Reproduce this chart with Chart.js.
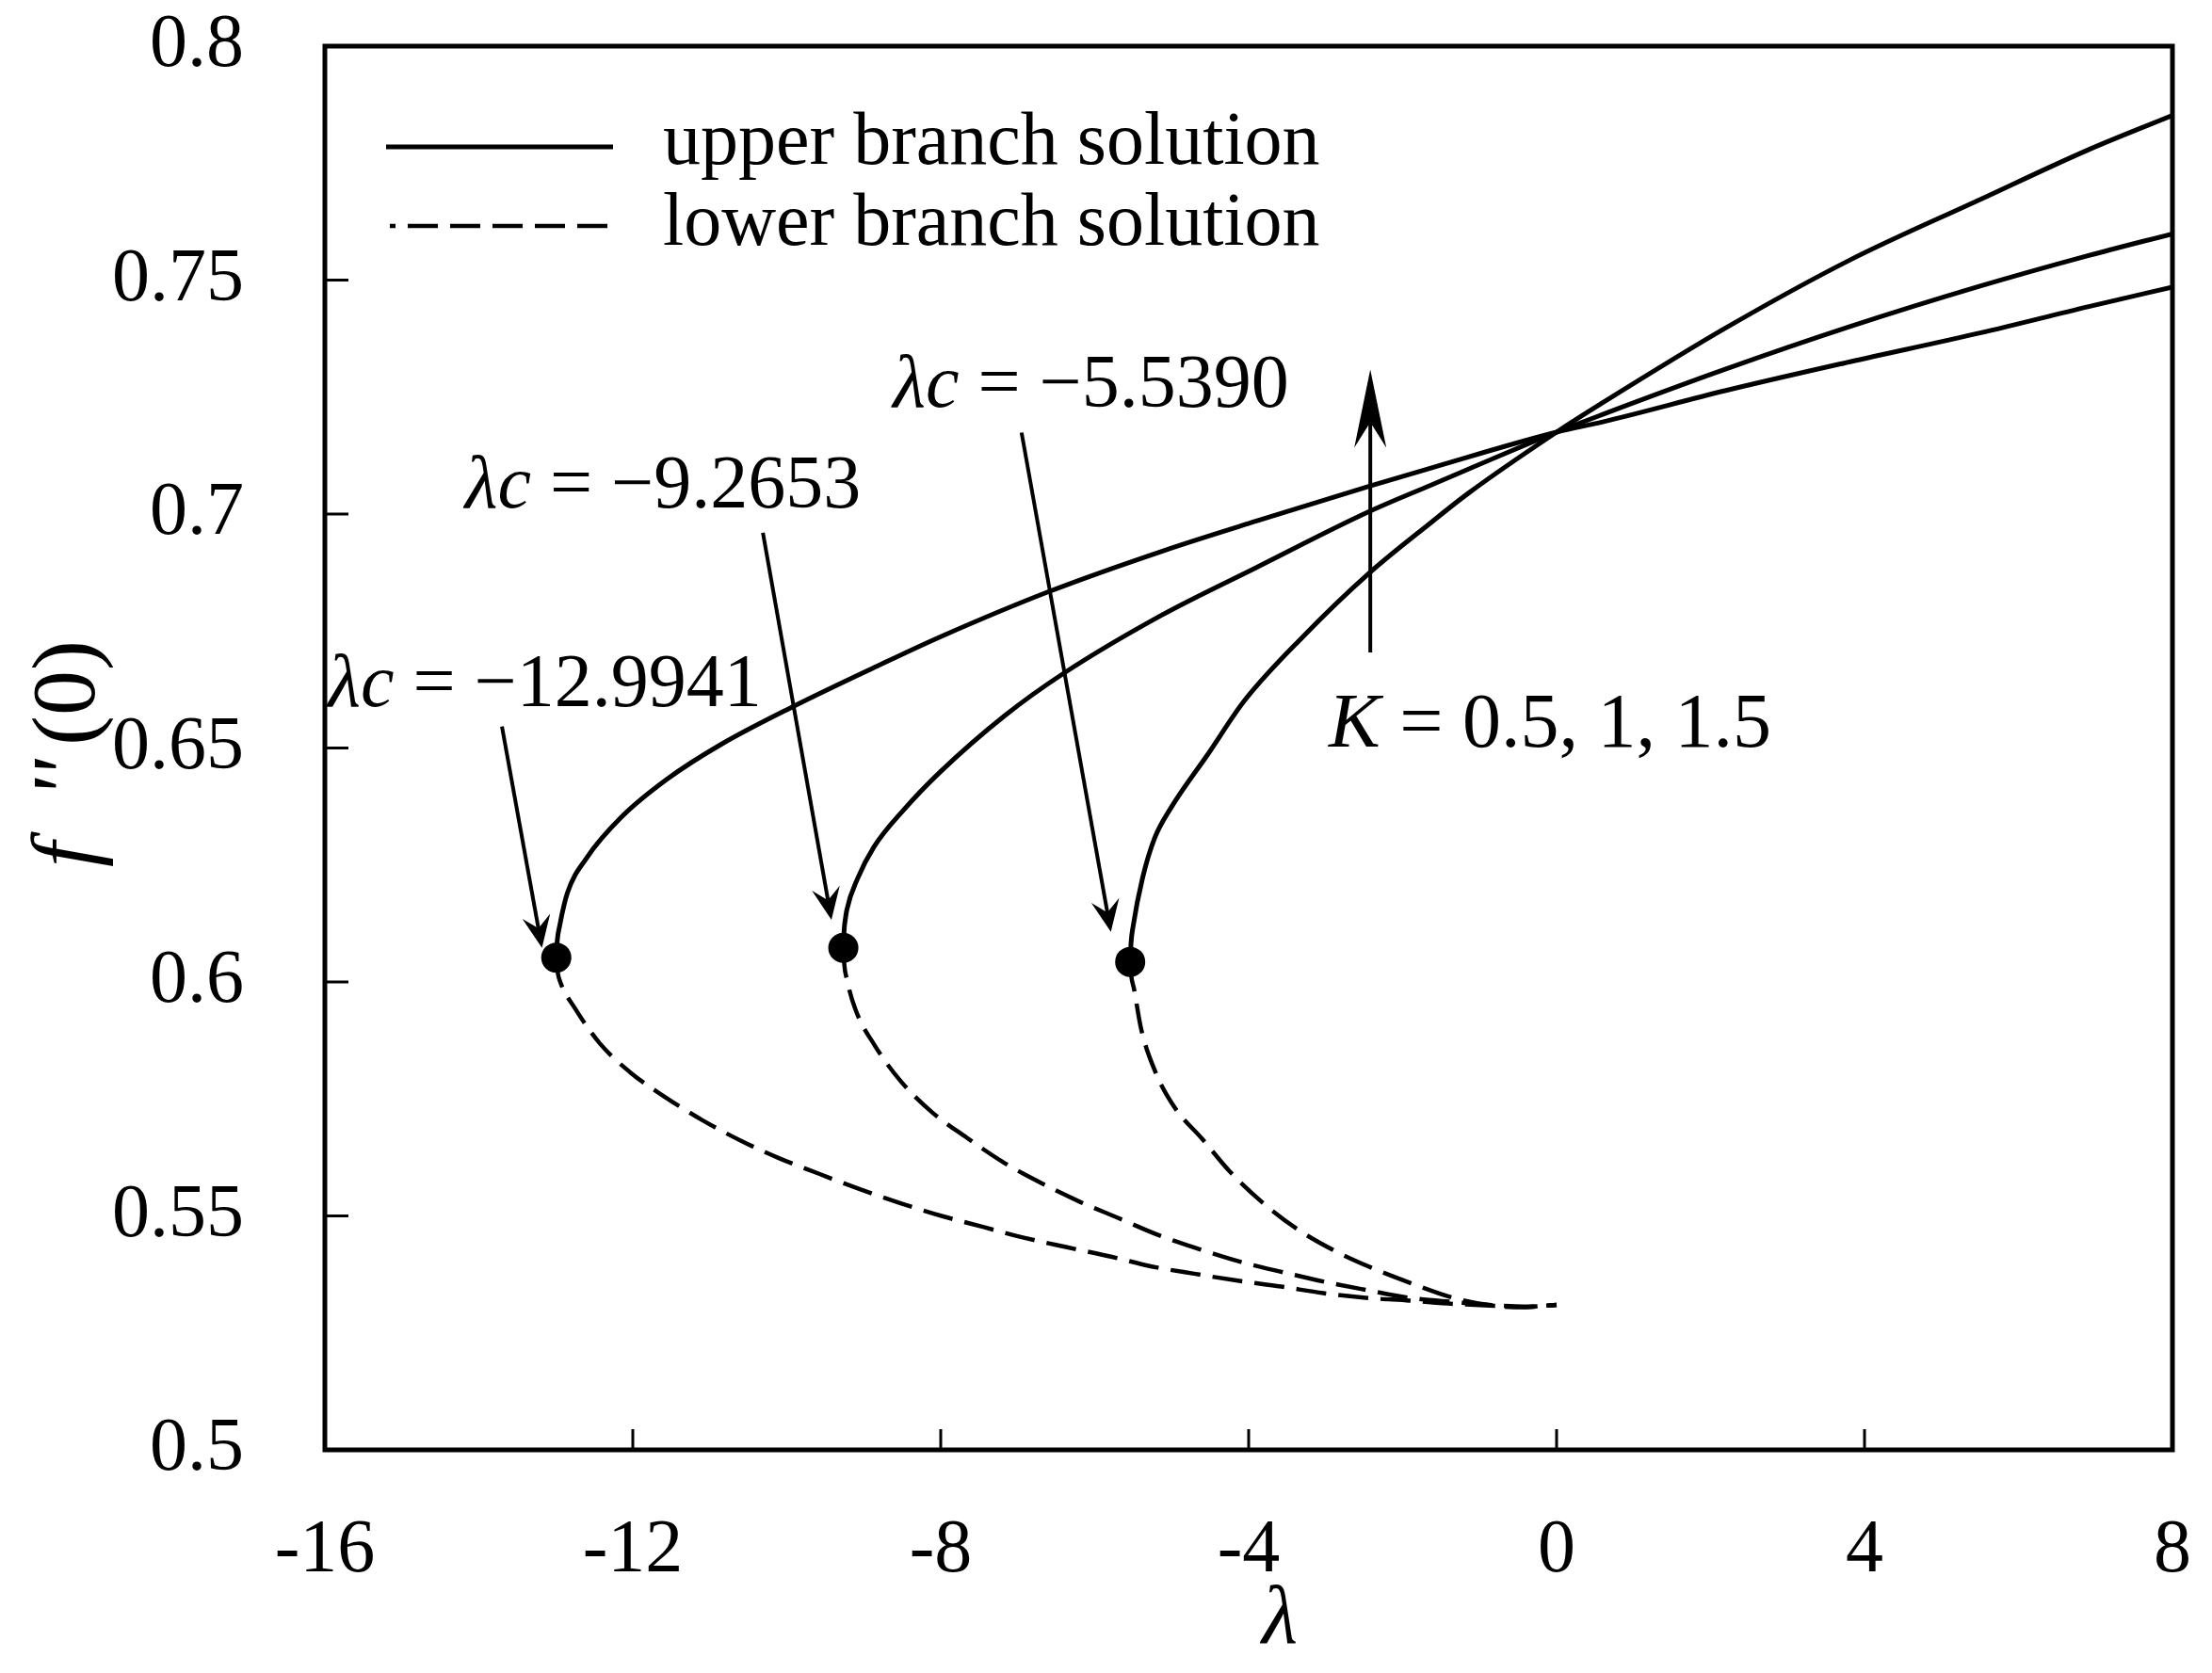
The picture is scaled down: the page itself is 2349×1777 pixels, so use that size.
<!DOCTYPE html>
<html lang="en">
<head>
<meta charset="UTF-8">
<title>f''(0) against lambda</title>
<script src="https://cdn.jsdelivr.net/npm/chart.js"></script>
<style>
  html, body { margin: 0; padding: 0; background: #fff; }
  #wrap { width: 2349px; height: 1777px; }
</style>
</head>
<body>
<div id="wrap"><canvas id="chart" width="2349" height="1777"></canvas></div>
<script>
// axis ticks
const xTicks = [-16, -12, -8, -4, 0, 4, 8];
const xTickLabels = ['-16', '-12', '-8', '-4', '0', '4', '8'];
const yTicks = [0.5, 0.55, 0.6, 0.65, 0.7, 0.75, 0.8];
const yTickLabels = ['0.5', '0.55', '0.6', '0.65', '0.7', '0.75', '0.8'];

const kValues = [0.5, 1, 1.5];

// turning points (one per K value, K = 0.5, 1, 1.5)
const lambdaC = [-5.5390, -9.2653, -12.9941];
const fppC = [0.6043, 0.6073, 0.6052];

// upper branch [lambda, f''(0)]
const upperK05 = [[-5.539, 0.6043], [-5.528, 0.6083], [-5.50, 0.6120], [-5.38, 0.6221], [-5.22, 0.6308],
  [-5.01, 0.6372], [-4.52, 0.6489], [-4.06, 0.6600], [-3.30, 0.6737], [-2.44, 0.6873], [-1.63, 0.6982],
  [-1.15, 0.7044], [0, 0.7175], [0.6, 0.7238], [2.2, 0.7398], [3.8, 0.7542], [5.5, 0.7672], [6.9, 0.7778], [8, 0.7852]];
const upperK1 = [[-9.265, 0.6073], [-9.254, 0.6113], [-9.24, 0.6133], [-9.22, 0.6154], [-9.08, 0.6221],
  [-8.87, 0.6288], [-8.48, 0.6368], [-8.0, 0.6450], [-7.17, 0.6569], [-6.40, 0.6660], [-5.13, 0.6784],
  [-3.91, 0.6885], [-2.44, 0.7005], [-1.63, 0.7062], [0, 0.7175], [0.6, 0.7213], [2.2, 0.7310],
  [3.8, 0.7400], [5.5, 0.7487], [6.9, 0.7552], [8, 0.7599]];
const upperK15 = [[-12.994, 0.6052], [-12.982, 0.6087], [-12.95, 0.6120], [-12.85, 0.6190], [-12.6, 0.6265],
  [-12.15, 0.6352], [-11.55, 0.6434], [-10.85, 0.6508], [-9.9, 0.6590], [-8.8, 0.6677], [-8.0, 0.6738],
  [-6.6, 0.6834], [-5.1, 0.6922], [-3.9, 0.6985], [-2.4, 0.7061], [-1.6, 0.7100], [0, 0.7175], [0.6, 0.7197],
  [2.2, 0.7264], [3.8, 0.7325], [5.5, 0.7387], [6.9, 0.7443], [8, 0.7485]];

// lower branch [lambda, f''(0)]
const lowerK05 = [[-5.539, 0.6043], [-5.525, 0.6013], [-5.49, 0.5986], [-5.40, 0.5902], [-5.22, 0.5811],
  [-4.97, 0.5734], [-4.60, 0.5664], [-4.24, 0.5594], [-3.83, 0.5530], [-3.38, 0.5473], [-2.89, 0.5426],
  [-2.40, 0.5389], [-1.87, 0.5355], [-1.34, 0.5325], [-0.81, 0.5308], [-0.4, 0.5305], [0, 0.5310]];
const lowerK1 = [[-9.265, 0.6073], [-9.253, 0.6038], [-9.22, 0.6006], [-9.11, 0.5942], [-8.86, 0.5865],
  [-8.52, 0.5788], [-8.11, 0.5721], [-7.66, 0.5667], [-7.21, 0.5617], [-6.89, 0.5587], [-6.19, 0.5530],
  [-5.70, 0.5496], [-5.17, 0.5459], [-4.64, 0.5429], [-4.11, 0.5402], [-3.54, 0.5379], [-3.01, 0.5359],
  [-2.48, 0.5342], [-1.91, 0.5325], [-1.34, 0.5316], [-0.81, 0.5309], [-0.4, 0.5306], [0, 0.5310]];
const lowerK15 = [[-12.994, 0.6052], [-12.977, 0.6022], [-12.94, 0.5999], [-12.76, 0.5946], [-12.43, 0.5869],
  [-12.02, 0.5805], [-11.58, 0.5754], [-11.09, 0.5704], [-10.60, 0.5661], [-10.11, 0.5624], [-9.58, 0.5590],
  [-9.05, 0.5557], [-8.52, 0.5527], [-7.99, 0.5500], [-7.44, 0.5476], [-7.01, 0.5457], [-6.36, 0.5433],
  [-5.79, 0.5413], [-5.26, 0.5392], [-4.69, 0.5376], [-4.16, 0.5362], [-3.58, 0.5349], [-3.03, 0.5335],
  [-2.48, 0.5325], [-1.91, 0.5319], [-1.34, 0.5312], [-0.81, 0.5308], [-0.4, 0.5306], [0, 0.5310]];

const legendLabels = ['upper branch solution', 'lower branch solution'];

// annotation anchors in data units: label start, arrow tail, arrow tip
const critLabelAt = [[-8.62, 0.7229], [-14.18, 0.7014], [-15.96, 0.6590]];
const critArrowFrom = [[-6.95, 0.7174], [-10.31, 0.6960], [-13.70, 0.6546]];
const critArrowTo = [[-5.79, 0.6107], [-9.42, 0.6133], [-13.18, 0.6073]];
const kLabelAt = [-2.96, 0.6503];
const kArrowFrom = [-2.42, 0.6704];
const kArrowTo = [-2.42, 0.7309];

const SERIF = "'Liberation Serif', 'Times New Roman', serif";
const DASH = [32, 13];

const toPts = arr => arr.map(p => ({ x: p[0], y: p[1] }));

function lineSet(arr, dashed) {
  return {
    data: toPts(arr),
    showLine: true,
    borderColor: '#000',
    borderWidth: dashed ? 4.5 : 5,
    borderDash: dashed ? DASH : [],
    pointRadius: 0,
    cubicInterpolationMode: 'monotone',
    fill: false
  };
}

function richText(ctx, x, y, segs, size) {
  let cx = x;
  segs.forEach(s => {
    ctx.font = (s.it ? 'italic ' : '') + size + 'px ' + SERIF;
    ctx.fillText(s.t, cx, y);
    cx += ctx.measureText(s.t).width;
  });
}

function arrow(ctx, x0, y0, x1, y1, len, hw, notch) {
  const a = Math.atan2(y1 - y0, x1 - x0);
  const c = Math.cos(a), s = Math.sin(a);
  ctx.beginPath();
  ctx.moveTo(x0, y0);
  ctx.lineTo(x1 - c * notch, y1 - s * notch);
  ctx.stroke();
  ctx.beginPath();
  ctx.moveTo(x1, y1);
  ctx.lineTo(x1 - c * len - s * hw, y1 - s * len + c * hw);
  ctx.lineTo(x1 - c * notch, y1 - s * notch);
  ctx.lineTo(x1 - c * len + s * hw, y1 - s * len - c * hw);
  ctx.closePath();
  ctx.fill();
}

const decorations = {
  id: 'decorations',
  afterDraw(chart) {
    const { ctx, chartArea: a, scales: { x, y } } = chart;
    const px = v => x.getPixelForValue(v);
    const py = v => y.getPixelForValue(v);
    ctx.save();
    ctx.strokeStyle = '#000';
    ctx.fillStyle = '#000';

    // frame
    ctx.lineWidth = 5;
    ctx.strokeRect(a.left, a.top, a.right - a.left, a.bottom - a.top);

    // inward ticks
    ctx.lineWidth = 3;
    ctx.beginPath();
    xTicks.slice(1, -1).forEach(v => { ctx.moveTo(px(v), a.bottom); ctx.lineTo(px(v), a.bottom - 22); });
    yTicks.slice(1, -1).forEach(v => { ctx.moveTo(a.left, py(v)); ctx.lineTo(a.left + 25, py(v)); });
    ctx.stroke();

    // arrows
    ctx.lineWidth = 4;
    critArrowFrom.forEach((f, i) => {
      const t = critArrowTo[i];
      arrow(ctx, px(f[0]), py(f[1]), px(t[0]), py(t[1]), 34, 15, 21);
    });
    arrow(ctx, px(kArrowFrom[0]), py(kArrowFrom[1]), px(kArrowTo[0]), py(kArrowTo[1]), 83, 17, 56);

    // labels
    ctx.textBaseline = 'alphabetic';
    ctx.textAlign = 'left';
    lambdaC.forEach((v, i) => {
      const p = critLabelAt[i];
      richText(ctx, px(p[0]), py(p[1]),
        [{ t: 'λc', it: true }, { t: ' = −' + Math.abs(v).toFixed(4) }], 80);
    });
    richText(ctx, px(kLabelAt[0]), py(kLabelAt[1]),
      [{ t: 'K', it: true }, { t: ' = ' + kValues.join(', ') }], 82);

    // legend
    ctx.lineWidth = 5;
    ctx.beginPath();
    ctx.moveTo(a.left + 65, a.top + 107);
    ctx.lineTo(a.left + 306, a.top + 107);
    ctx.stroke();
    ctx.lineWidth = 4.5;
    ctx.setLineDash(DASH);
    ctx.lineDashOffset = 26;
    ctx.beginPath();
    ctx.moveTo(a.left + 69, a.top + 191);
    ctx.lineTo(a.left + 309, a.top + 191);
    ctx.stroke();
    ctx.setLineDash([]);
    ctx.font = '80px ' + SERIF;
    ctx.fillText(legendLabels[0], a.left + 359, a.top + 125);
    ctx.fillText(legendLabels[1], a.left + 359, a.top + 211);

    // x axis title
    ctx.textAlign = 'center';
    ctx.textBaseline = 'middle';
    ctx.font = 'italic 88px ' + SERIF;
    ctx.fillText('λ', (a.left + a.right) / 2 + 33, 1722);

    // y axis title f''(0), rotated
    ctx.textAlign = 'left';
    ctx.translate(75, 933);
    ctx.rotate(-Math.PI / 2);
    ctx.font = 'italic 96px ' + SERIF;
    ctx.fillText('f', 12, 0);
    ctx.fillText("''", 85, 0);
    ctx.font = '96px ' + SERIF;
    ctx.fillText('(0)', 141, 0);
    ctx.restore();
  }
};

new Chart(document.getElementById('chart'), {
  type: 'scatter',
  data: {
    datasets: [
      {
        data: lambdaC.map((v, i) => ({ x: v, y: fppC[i] })),
        pointRadius: 16,
        pointStyle: 'circle',
        backgroundColor: '#000',
        borderWidth: 0,
        showLine: false
      },
      lineSet(upperK05, false),
      lineSet(upperK1, false),
      lineSet(upperK15, false),
      lineSet(lowerK05, true),
      lineSet(lowerK1, true),
      lineSet(lowerK15, true)
    ]
  },
  options: {
    responsive: false,
    animation: false,
    layout: { padding: { left: 0, right: 42, top: 49, bottom: 0 } },
    plugins: { legend: { display: false }, tooltip: { enabled: false } },
    scales: {
      x: {
        type: 'linear',
        position: 'bottom',
        min: -16,
        max: 8,
        afterBuildTicks: s => { s.ticks = xTicks.map(v => ({ value: v })); },
        afterFit: s => { s.height = 237; s.paddingLeft = 0; s.paddingRight = 0; },
        grid: { display: false },
        border: { display: false },
        ticks: {
          color: '#000',
          padding: 52,
          maxRotation: 0,
          autoSkip: false,
          font: { family: SERIF, size: 80 },
          callback: (v, i) => xTickLabels[i]
        },
        title: { display: false }
      },
      y: {
        type: 'linear',
        min: 0.5,
        max: 0.8,
        afterBuildTicks: s => { s.ticks = yTicks.map(v => ({ value: v })); },
        afterFit: s => { s.width = 345; s.paddingTop = 0; s.paddingBottom = 0; },
        grid: { display: false },
        border: { display: false },
        ticks: {
          color: '#000',
          padding: 78,
          autoSkip: false,
          font: { family: SERIF, size: 80 },
          callback: (v, i) => yTickLabels[i]
        }
      }
    }
  },
  plugins: [decorations]
});
</script>
</body>
</html>
